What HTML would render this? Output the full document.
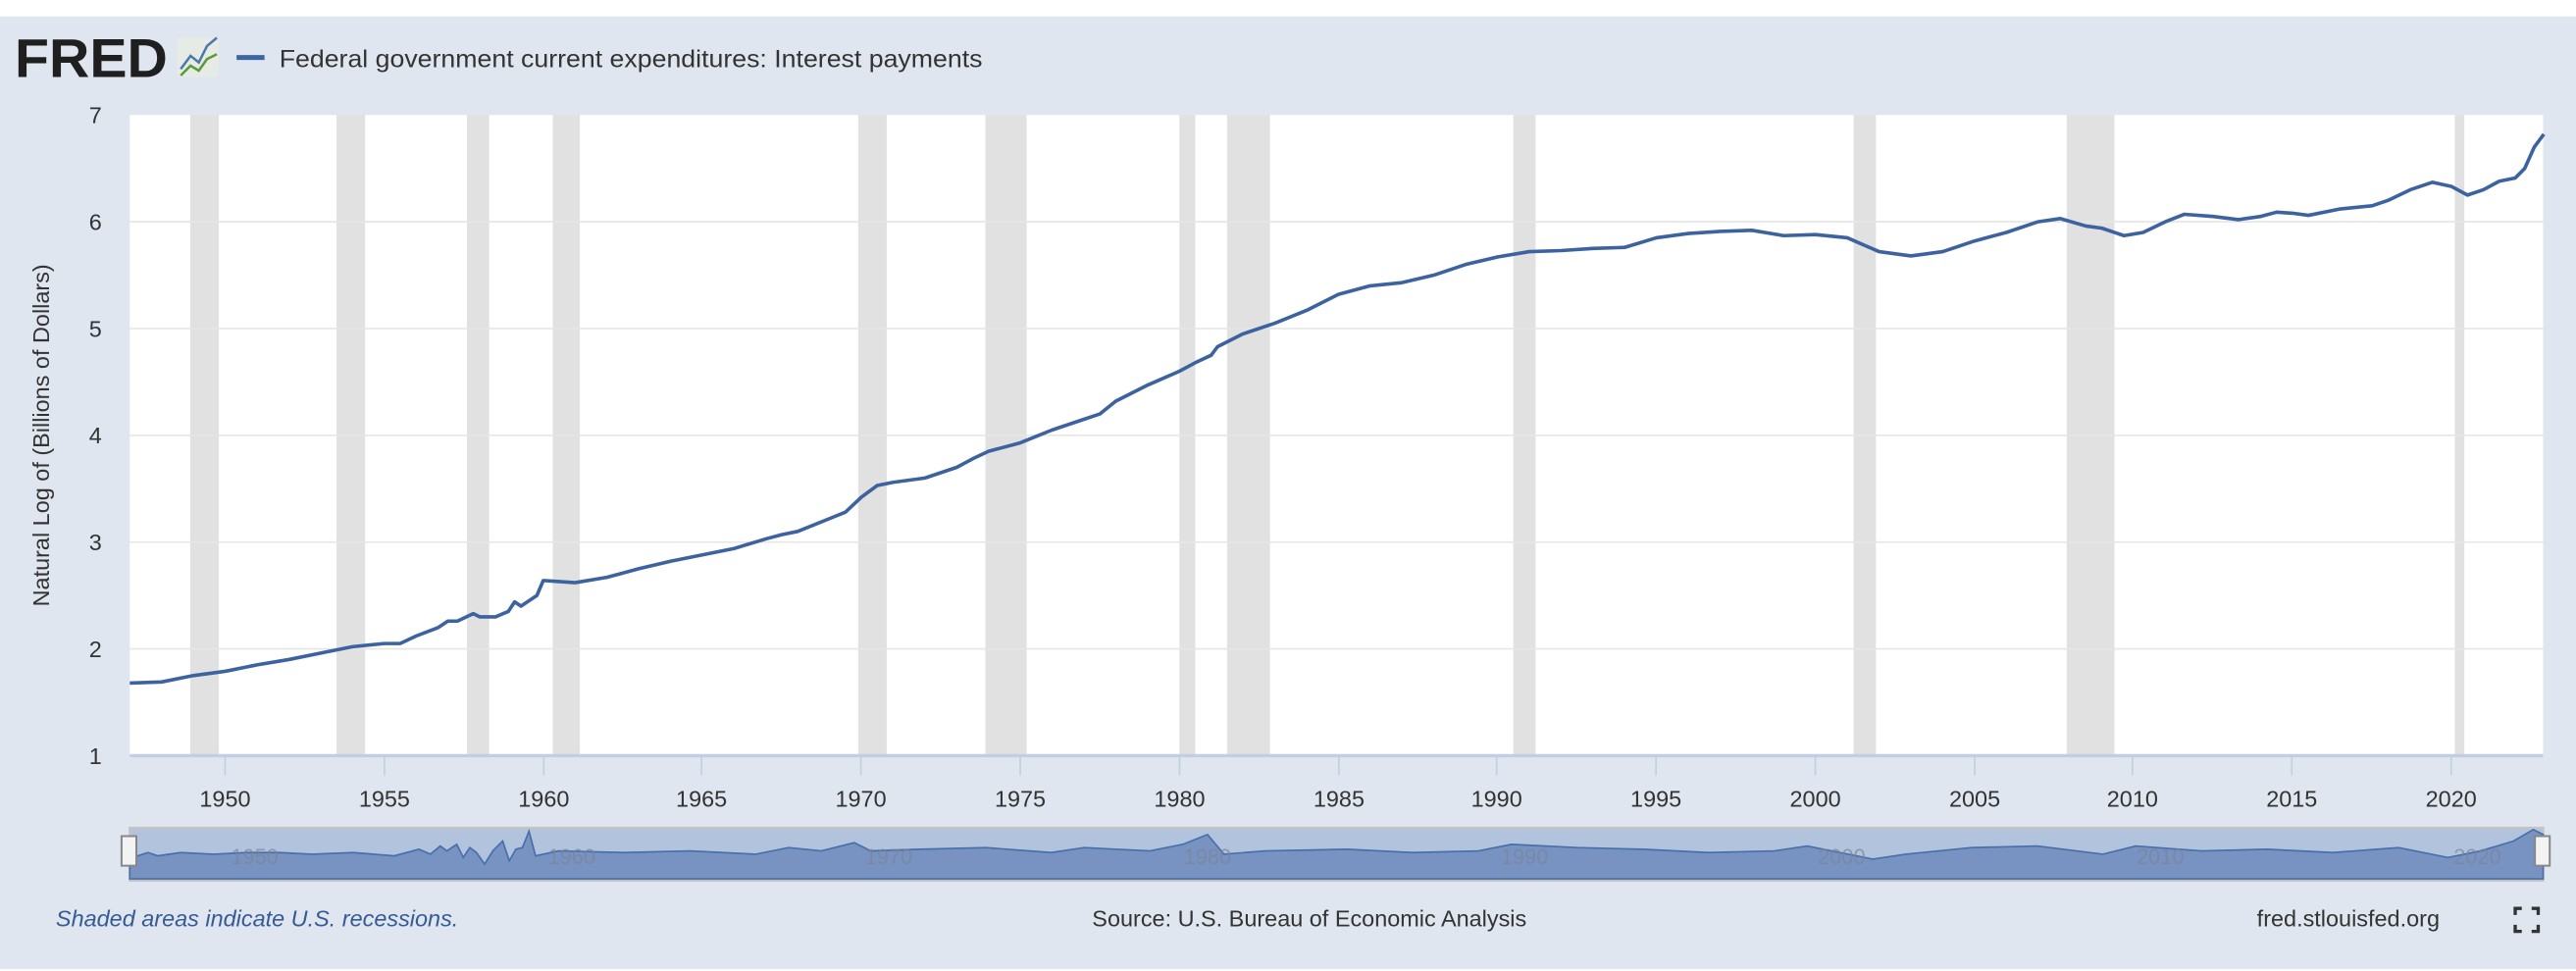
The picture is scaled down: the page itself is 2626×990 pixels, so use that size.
<!DOCTYPE html>
<html><head><meta charset="utf-8"><style>
html,body{margin:0;padding:0;background:#fff;}
svg{display:block;}
text{font-family:"Liberation Sans",sans-serif;}
</style></head><body>
<svg width="2626" height="990" viewBox="0 0 1568 591.1" preserveAspectRatio="none" xmlns="http://www.w3.org/2000/svg">
<rect x="0" y="10" width="1568" height="580" fill="#dfe6ef"/>
<!-- logo -->
<text x="9" y="47" font-size="33" font-weight="bold" fill="#1f1f1f" textLength="93" lengthAdjust="spacingAndGlyphs">FRED</text>
<rect x="108" y="23" width="25" height="24" fill="#e6ebe6" rx="2"/>
<polyline points="110,42 116,34 121,38 126,28 132,23" fill="none" stroke="#4a7aa8" stroke-width="1.5"/>
<polyline points="110,46 116,40 121,43 126,36 132,33" fill="none" stroke="#5a9a3a" stroke-width="1.5"/>
<line x1="144" y1="35" x2="161" y2="35" stroke="#3c66a2" stroke-width="3"/>
<text x="170" y="41" font-size="15" fill="#333" textLength="428" lengthAdjust="spacingAndGlyphs">Federal government current expenditures: Interest payments</text>
<!-- plot -->
<rect x="79" y="70" width="1469" height="390" fill="#fff"/>
<g fill="#e1e1e1" transform="translate(79,0) scale(19.36,1)">
<rect x="1.9" y="70" width="0.9" height="390"/>
<rect x="6.5" y="70" width="0.9" height="390"/>
<rect x="10.6" y="70" width="0.7" height="390"/>
<rect x="13.3" y="70" width="0.85" height="390"/>
<rect x="22.9" y="70" width="0.9" height="390"/>
<rect x="26.9" y="70" width="1.3" height="390"/>
<rect x="33.0" y="70" width="0.5" height="390"/>
<rect x="34.5" y="70" width="1.35" height="390"/>
<rect x="43.5" y="70" width="0.7" height="390"/>
<rect x="54.2" y="70" width="0.7" height="390"/>
<rect x="60.9" y="70" width="1.5" height="390"/>
<rect x="73.1" y="70" width="0.3" height="390"/>
</g>
<g stroke="#e6e6e6" stroke-width="1">
<line x1="79" x2="1548" y1="135" y2="135"/><line x1="79" x2="1548" y1="200" y2="200"/>
<line x1="79" x2="1548" y1="265" y2="265"/><line x1="79" x2="1548" y1="330" y2="330"/>
<line x1="79" x2="1548" y1="395" y2="395"/>
</g>
<line x1="79" x2="1548" y1="460" y2="460" stroke="#c2cfe3" stroke-width="2"/>
<g font-size="14" fill="#333" text-anchor="end">
<text x="62" y="75">7</text><text x="62" y="140">6</text><text x="62" y="205">5</text><text x="62" y="270">4</text><text x="62" y="335">3</text><text x="62" y="400">2</text><text x="62" y="465">1</text>
</g>
<text transform="translate(30,265) rotate(-90)" font-size="14" fill="#333" text-anchor="middle">Natural Log of (Billions of Dollars)</text>
<g stroke="#c2cfe3"><line x1="137" x2="137" y1="460" y2="472"/><line x1="234" x2="234" y1="460" y2="472"/><line x1="331" x2="331" y1="460" y2="472"/><line x1="427" x2="427" y1="460" y2="472"/><line x1="524" x2="524" y1="460" y2="472"/><line x1="621" x2="621" y1="460" y2="472"/><line x1="718" x2="718" y1="460" y2="472"/><line x1="815" x2="815" y1="460" y2="472"/><line x1="911" x2="911" y1="460" y2="472"/><line x1="1008" x2="1008" y1="460" y2="472"/><line x1="1105" x2="1105" y1="460" y2="472"/><line x1="1202" x2="1202" y1="460" y2="472"/><line x1="1298" x2="1298" y1="460" y2="472"/><line x1="1395" x2="1395" y1="460" y2="472"/><line x1="1492" x2="1492" y1="460" y2="472"/></g>
<g font-size="14" fill="#333" text-anchor="middle">
<text x="137" y="491">1950</text><text x="234" y="491">1955</text><text x="331" y="491">1960</text><text x="427" y="491">1965</text><text x="524" y="491">1970</text><text x="621" y="491">1975</text><text x="718" y="491">1980</text><text x="815" y="491">1985</text><text x="911" y="491">1990</text><text x="1008" y="491">1995</text><text x="1105" y="491">2000</text><text x="1202" y="491">2005</text><text x="1298" y="491">2010</text><text x="1395" y="491">2015</text><text x="1492" y="491">2020</text>
</g>
<g transform="translate(79,460) scale(19.36,-65)">
<path vector-effect="non-scaling-stroke" fill="none" stroke="#3c63a0" stroke-width="3.6" stroke-linejoin="round" d="M0,0.68 L1,0.69 L2,0.75 L3,0.79 L4,0.85 L5,0.9 L6,0.96 L7,1.02 L8,1.05 L8.5,1.05 L9,1.12 L9.7,1.2 L10,1.26 L10.3,1.26 L10.8,1.33 L11,1.3 L11.5,1.3 L11.9,1.35 L12.1,1.44 L12.3,1.4 L12.8,1.5 L13,1.64 L13.5,1.63 L14,1.62 L15,1.67 L16,1.75 L17,1.82 L18,1.88 L19,1.94 L20,2.03 L20.5,2.07 L21,2.1 L22,2.22 L22.5,2.28 L23,2.42 L23.5,2.53 L24,2.56 L25,2.6 L26,2.7 L26.5,2.78 L27,2.85 L28,2.93 L29,3.05 L30,3.15 L30.5,3.2 L31,3.32 L32,3.47 L33,3.6 L33.5,3.68 L34,3.75 L34.2,3.83 L35,3.95 L36,4.05 L37,4.17 L38,4.32 L39,4.4 L40,4.43 L41,4.5 L42,4.6 L43,4.67 L44,4.72 L45,4.73 L46,4.75 L47,4.76 L48,4.85 L49,4.89 L50,4.91 L51,4.92 L52,4.87 L53,4.88 L54,4.85 L55,4.72 L56,4.68 L57,4.72 L58,4.82 L59,4.9 L60,5.0 L60.7,5.03 L61.5,4.96 L62,4.94 L62.7,4.87 L63.3,4.9 L64,5.0 L64.6,5.07 L65.5,5.05 L66.3,5.02 L67,5.05 L67.5,5.09 L68,5.08 L68.5,5.06 L69.5,5.12 L70.5,5.15 L71,5.2 L71.7,5.3 L72.4,5.37 L73,5.33 L73.5,5.25 L74,5.3 L74.5,5.38 L75,5.41 L75.3,5.5 L75.6,5.7 L75.9,5.82"/>
</g>
<!-- navigator -->
<rect x="79" y="504" width="1469" height="32" fill="#b2c3de" stroke="#c4c4c4" stroke-width="1.5"/>
<path d="M84,521 L90,519 L96,521 L110,519 L130,520 L150,519 L170,519 L190,520 L215,519 L240,521 L255,517 L262,520 L268,515 L272,518 L278,514 L282,522 L286,516 L290,519 L295,526 L300,518 L306,512 L310,524 L314,517 L318,516 L322,506 L326,521 L340,518 L380,519 L420,518 L440,519 L460,520 L480,516 L500,518 L520,513 L530,518 L560,517 L600,516 L640,519 L660,516 L700,518 L720,514 L735,508 L745,520 L770,518 L820,517 L860,519 L900,518 L920,514 L960,516 L1000,517 L1040,519 L1080,518 L1100,515 L1140,523 L1160,520 L1200,516 L1240,515 L1280,520 L1300,515 L1340,518 L1380,517 L1420,519 L1460,516 L1490,522 L1510,518 L1530,512 L1542,505 L1548,508 L1548,535 L79,535 L79,521 Z" fill="#7893c2" stroke="#476fa8" stroke-width="1"/>
<g font-size="13" fill="#7a8597" opacity="0.7" text-anchor="middle">
<text x="155" y="526">1950</text><text x="348" y="526">1960</text><text x="541" y="526">1970</text><text x="735" y="526">1980</text><text x="928" y="526">1990</text><text x="1121" y="526">2000</text><text x="1315" y="526">2010</text><text x="1508" y="526">2020</text>
</g>
<rect x="74" y="509" width="9" height="18" fill="#f3f3f3" stroke="#888" stroke-width="1.2"/>
<rect x="1543" y="509" width="9" height="18" fill="#f3f3f3" stroke="#888" stroke-width="1.2"/>
<!-- footer -->
<text x="34" y="564" font-size="14" font-style="italic" fill="#365b94">Shaded areas indicate U.S. recessions.</text>
<text x="797" y="564" font-size="14" fill="#333" text-anchor="middle">Source: U.S. Bureau of Economic Analysis</text>
<text x="1485" y="564" font-size="14" fill="#333" text-anchor="end">fred.stlouisfed.org</text>
<g stroke="#333" stroke-width="2" fill="none">
<path d="M1531,557 v-4 h4 M1541,553 h4 v4 M1545,563 v4 h-4 M1535,567 h-4 v-4"/>
</g>
</svg>
</body></html>
